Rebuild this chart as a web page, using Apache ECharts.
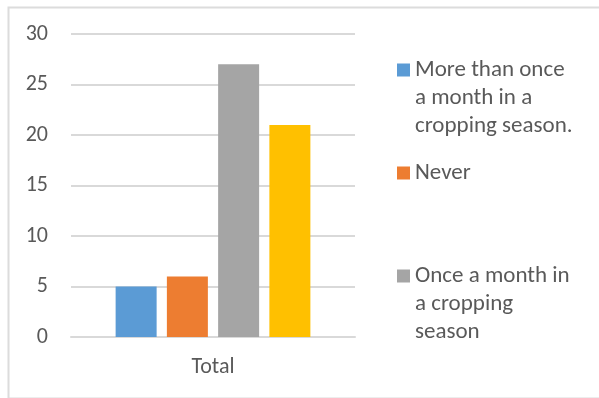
<!DOCTYPE html>
<html>
<head>
<meta charset="utf-8">
<script src="https://cdn.jsdelivr.net/npm/echarts@6/dist/echarts.min.js"></script>
<style>
html,body{margin:0;padding:0;background:#fff;}
#chart{width:599px;height:398px;}
</style>
</head>
<body>
<div id="chart"></div>
<script>
var categories = ['Total'];
var seriesNames = ['More than once\na month in a\ncropping season.', 'Never', 'Once a month in\na cropping\nseason', 'Other'];
var seriesValues = [[5], [6], [27], [21]];
var seriesColors = ['#5B9BD5', '#ED7D31', '#A5A5A5', '#FFC000'];
var legendNames = [seriesNames[0], seriesNames[1], seriesNames[2]];
var yTicks = { min: 0, max: 30, interval: 5 };

var FONT = 'Carlito, Lato, sans-serif';
var TEXT = '#595959';
var LH = 28;

var chart = echarts.init(document.getElementById('chart'));
var series = seriesNames.map(function (n, i) {
  return {
    name: n, type: 'bar', data: seriesValues[i],
    barWidth: 41, barGap: '25%',
    itemStyle: { color: seriesColors[i] }
  };
});
chart.setOption({
  animation: false,
  backgroundColor: '#fff',
  graphic: [{
    type: 'rect', left: 6, top: 5, silent: true,
    shape: { x: 0, y: 0, width: 700, height: 391 },
    style: { fill: 'none', stroke: '#dcdcdc', lineWidth: 2 }
  }],
  grid: { left: 71, right: 244, top: 34, bottom: 61 },
  legend: {
    orient: 'vertical', left: 397, top: 0, padding: 0,
    itemWidth: 13, itemHeight: 13, itemGap: 19,
    icon: 'rect',
    data: legendNames,
    formatter: function (name) {
      var lines = name.split('\n').length;
      return new Array(lines).join('\n') + name;
    },
    textStyle: { fontFamily: FONT, fontSize: 23, color: TEXT, lineHeight: LH }
  },
  xAxis: {
    type: 'category', data: categories,
    axisLine: { lineStyle: { color: '#d9d9d9', width: 2 } },
    axisTick: { show: false },
    axisLabel: { fontFamily: FONT, fontSize: 22, color: TEXT, margin: 19 }
  },
  yAxis: {
    type: 'value', min: yTicks.min, max: yTicks.max, interval: yTicks.interval,
    axisLine: { show: false }, axisTick: { show: false },
    splitLine: { lineStyle: { color: '#d9d9d9', width: 2 } },
    axisLabel: { fontFamily: FONT, fontSize: 22, color: TEXT, margin: 23 }
  },
  series: series
});
</script>
</body>
</html>
